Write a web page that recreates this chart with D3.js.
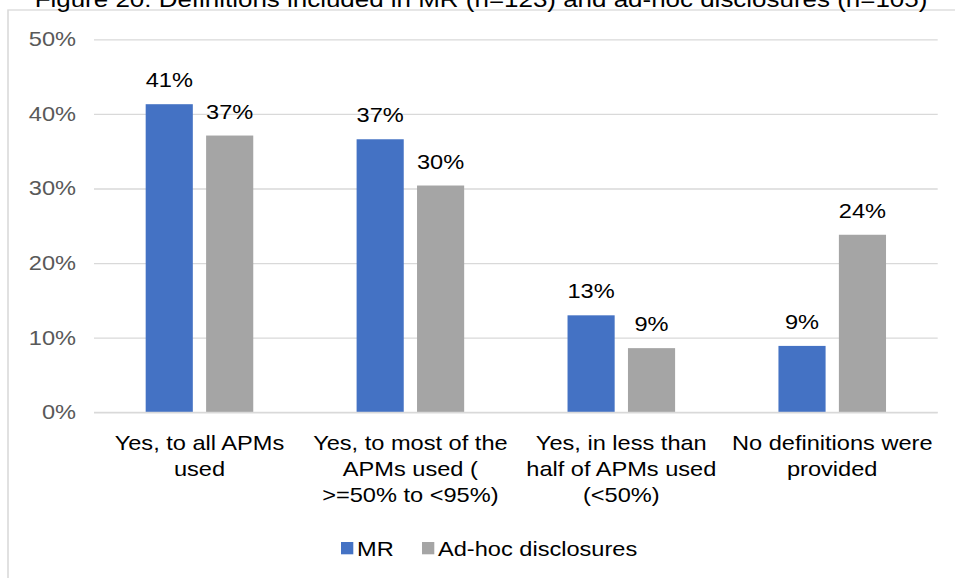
<!DOCTYPE html>
<html>
<head>
<meta charset="utf-8">
<script src="https://cdn.jsdelivr.net/npm/d3@7"></script>
<style>
  body { margin: 0; background: #fff; }
  svg { display: block; font-family: Arial, "Liberation Sans", sans-serif; }
</style>
</head>
<body>
<svg id="chart"></svg>
<script>
// data
const categories = [
  'Yes, to all APMs used',
  'Yes, to most of the APMs used ( >=50% to <95%)',
  'Yes, in less than half of APMs used (<50%)',
  'No definitions were provided'
];
const categoryLines = [
  ['Yes, to all APMs', 'used'],
  ['Yes, to most of the', 'APMs used (', '>=50% to <95%)'],
  ['Yes, in less than', 'half of APMs used', '(<50%)'],
  ['No definitions were', 'provided']
];
const seriesNames = ['MR', 'Ad-hoc disclosures'];
const mrValues = [0.413, 0.366, 0.130, 0.089];
const adhocValues = [0.371, 0.304, 0.086, 0.238];
const yTicks = [0, 0.1, 0.2, 0.3, 0.4, 0.5];
const colors = ['#4472C4', '#A5A5A5'];
const title = 'Figure 20: Definitions included in MR (n=123) and ad-hoc disclosures (n=105)';

// the original picture is stretched horizontally, so draw in a narrower
// coordinate space and let the viewBox widen it
const k = 1.18;
const width = 955, height = 578;
const W = width / k;

const svg = d3.select('#chart')
  .attr('width', width)
  .attr('height', height)
  .attr('viewBox', `0 0 ${W} ${height}`)
  .attr('preserveAspectRatio', 'none');

const plot = { left: 94 / k, right: 937.7 / k, top: 39.3, bottom: 412.3 };

const data = categories.map((c, i) => ({ cat: c, values: [mrValues[i], adhocValues[i]] }));

// chart frame
svg.append('rect')
  .attr('x', 8 / k).attr('y', 10)
  .attr('width', W + 20).attr('height', height)
  .attr('fill', '#fff')
  .attr('stroke', '#d9d9d9')
  .attr('stroke-width', 1.3);

// title (partly cut off at the top, as in the source)
svg.append('text')
  .attr('x', 481 / k)
  .attr('y', 7)
  .attr('text-anchor', 'middle')
  .attr('font-size', 22)
  .attr('fill', '#000')
  .text(title);

const x0 = d3.scaleBand()
  .domain(categories)
  .range([plot.left, plot.right])
  .paddingInner(0.49)
  .paddingOuter(0.245);

const x1 = d3.scaleBand()
  .domain(seriesNames)
  .range([0, x0.bandwidth()])
  .paddingInner(0.22);

const y = d3.scaleLinear()
  .domain([0, 0.5])
  .range([plot.bottom, plot.top]);

// gridlines + y labels
const yAxis = svg.append('g')
  .attr('transform', `translate(${plot.left},0)`)
  .call(d3.axisLeft(y).tickValues(yTicks).tickFormat(d3.format('.0%'))
    .tickSize(-(plot.right - plot.left)).tickPadding(18 / k));
yAxis.select('.domain').remove();
yAxis.selectAll('.tick line').attr('stroke', '#d9d9d9').attr('stroke-width', 1.3);
yAxis.selectAll('.tick text')
  .attr('font-size', 20)
  .attr('font-family', 'Arial, "Liberation Sans", sans-serif')
  .attr('fill', '#595959');

// bars
const groups = svg.append('g').selectAll('g')
  .data(data)
  .join('g')
  .attr('transform', d => `translate(${x0(d.cat)},0)`);

groups.selectAll('rect')
  .data(d => d.values.map((v, i) => ({ key: seriesNames[i], v, i })))
  .join('rect')
  .attr('x', d => x1(d.key))
  .attr('y', d => y(d.v))
  .attr('width', x1.bandwidth())
  .attr('height', d => y(0) - y(d.v))
  .attr('fill', d => colors[d.i]);

groups.selectAll('text.val')
  .data(d => d.values.map((v, i) => ({ key: seriesNames[i], v, i })))
  .join('text')
  .attr('class', 'val')
  .attr('x', d => x1(d.key) + x1.bandwidth() / 2)
  .attr('y', d => y(d.v) - 17)
  .attr('text-anchor', 'middle')
  .attr('font-size', 20)
  .attr('fill', '#000')
  .text(d => d3.format('.0%')(d.v));

// baseline redrawn over bars
svg.append('line')
  .attr('x1', plot.left).attr('x2', plot.right)
  .attr('y1', y(0)).attr('y2', y(0))
  .attr('stroke', '#d9d9d9').attr('stroke-width', 1.3);

// category labels
const catLabels = svg.append('g').selectAll('text')
  .data(data)
  .join('text')
  .attr('x', d => x0(d.cat) + x0.bandwidth() / 2)
  .attr('y', 450)
  .attr('text-anchor', 'middle')
  .attr('font-size', 20)
  .attr('fill', '#000');

catLabels.selectAll('tspan')
  .data((d, i) => categoryLines[i])
  .join('tspan')
  .attr('x', function () { return d3.select(this.parentNode).attr('x'); })
  .attr('dy', (d, i) => i === 0 ? 0 : 25.8)
  .text(d => d);

// legend
const legendX = [341 / k, 422 / k];
const legend = svg.append('g').selectAll('g')
  .data(seriesNames)
  .join('g')
  .attr('transform', (d, i) => `translate(${legendX[i]},542)`);

legend.append('rect')
  .attr('width', 12.3 / k)
  .attr('height', 12.3)
  .attr('fill', (d, i) => colors[i]);

legend.append('text')
  .attr('x', 16 / k)
  .attr('y', 14)
  .attr('font-size', 20)
  .attr('fill', '#000')
  .text(d => d);
</script>
</body>
</html>
